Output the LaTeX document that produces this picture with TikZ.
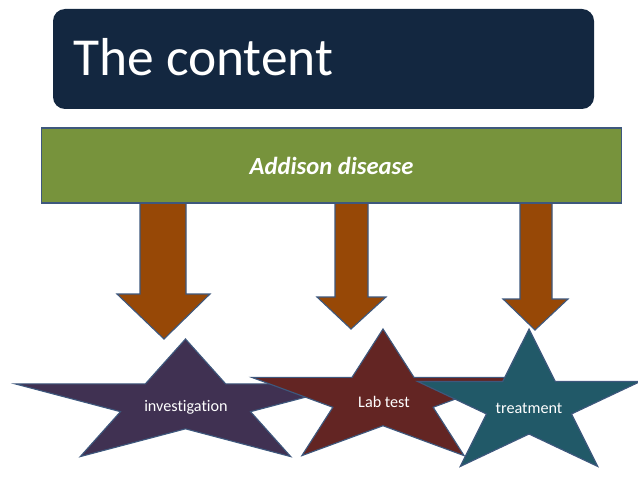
\documentclass[tikz,border=0pt]{standalone}
\usepackage{fontspec}
\setmainfont{Carlito}[Ligatures={NoCommon}]
\usepackage{tikz}
\usetikzlibrary{positioning}
\usepackage{color}
\definecolor{navy}{RGB}{19, 39, 64}
\definecolor{olivegreen}{RGB}{119, 147, 60}
\definecolor{rust}{RGB}{151, 72, 6}
\definecolor{plum}{RGB}{64, 49, 82}
\definecolor{maroon}{RGB}{99, 37, 35}
\definecolor{petrol}{RGB}{33, 89, 104}
\definecolor{slate}{RGB}{62, 88, 125}

% five point star: fill, centre x, centre y, x radius, y radius
\newcommand{\fivestar}[5]{%
  \begin{scope}[shift={(#2,#3)}, x=#4*0.025cm, y=#5*0.025cm]
    \filldraw[color=slate, fill=#1, line width=0.8pt]
      (90:1) -- (126:0.382) -- (162:1) -- (198:0.382) -- (234:1) -- (270:0.382)
      -- (306:1) -- (342:0.382) -- (18:1) -- (54:0.382) -- cycle;
  \end{scope}}

\begin{document}
\begin{tikzpicture}[x=0.025cm, y=-0.025cm,
    startext/.style={text=white, font=\fontsize{11.5}{13}\selectfont}]
            \useasboundingbox                                           (0, 0) rectangle (638, 479);
            % heading
            \fill[navy, rounded corners=12*0.025cm]                     (53, 9) rectangle (594, 109);
            \node[anchor=base west, inner sep=0pt, text=white,
                  font=\fontsize{38}{44}\selectfont] (title) at (73, 75) {The content};
            % arrows
            \filldraw[color=slate, fill=rust, line width=0.8pt] (140, 203) -- (186, 203) -- (186, 294) -- (210, 294)
                 -- (164, 339) -- (117, 294) -- (140, 294) -- cycle;
            \filldraw[color=slate, fill=rust, line width=0.8pt] (335, 203) -- (368, 203) -- (368, 297) -- (386, 297)
                 -- (351, 329) -- (317, 297) -- (335, 297) -- cycle;
            \filldraw[color=slate, fill=rust, line width=0.8pt] (520, 203) -- (552, 203) -- (552, 299) -- (568, 299)
                 -- (535, 330) -- (503, 299) -- (520, 299) -- cycle;
            % topic bar
            \node[draw=slate, fill=olivegreen, line width=0.8pt, minimum width=14.5cm, minimum height=1.875cm,
                  text=white, font=\fontsize{17.5}{20}\selectfont\bfseries\itshape] (disease) at (331.5, 165.5) {Addison disease};
            % stars
            \fivestar{plum}{185.5}{404}{179}{65}
            \fivestar{maroon}{383}{399}{138}{70}
            \fivestar{petrol}{529}{405}{117}{76}
            \node[startext] (investigation) at (186, 407) {investigation};
            \node[startext] (labtest)       at (384, 402) {Lab test};
            \node[startext] (treatment)     at (529, 408) {treatment};
\end{tikzpicture}
\end{document}
